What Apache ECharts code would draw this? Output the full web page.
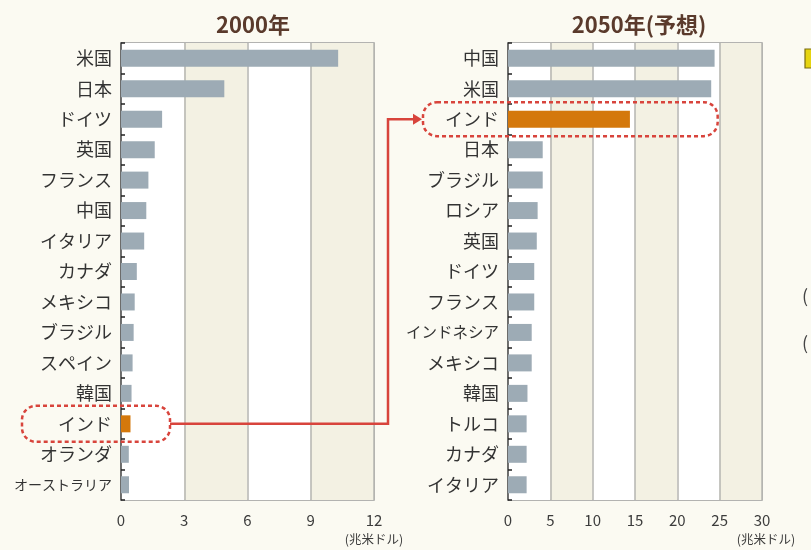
<!DOCTYPE html>
<html>
<head>
<meta charset="utf-8">
<script src="https://cdn.jsdelivr.net/npm/echarts@6/dist/echarts.min.js"></script>
<style>
html,body{margin:0;padding:0;background:#fbfaf2;}
#c{width:811px;height:550px;}
</style>
</head>
<body>
<div id="c"></div>
<script>
// ---- data ----
const cats2000 = ['米国','日本','ドイツ','英国','フランス','中国','イタリア','カナダ','メキシコ','ブラジル','スペイン','韓国','インド','オランダ','オーストラリア'];
const vals2000 = [10.3, 4.9, 1.95, 1.6, 1.3, 1.2, 1.1, 0.75, 0.65, 0.6, 0.55, 0.5, 0.45, 0.37, 0.38];
const cats2050 = ['中国','米国','インド','日本','ブラジル','ロシア','英国','ドイツ','フランス','インドネシア','メキシコ','韓国','トルコ','カナダ','イタリア'];
const vals2050 = [24.4, 24.0, 14.4, 4.1, 4.1, 3.5, 3.4, 3.1, 3.1, 2.8, 2.8, 2.3, 2.2, 2.2, 2.2];
const ticks2000 = [0, 3, 6, 9, 12];
const ticks2050 = [0, 5, 10, 15, 20, 25, 30];
const titles = ['2000年', '2050年(予想)'];
const unitLabel = '(兆米ドル)';
const highlight = 'インド';
const smallLabels = {'オーストラリア': 14, 'インドネシア': 15.5};

const FONT = '"Noto Sans CJK JP", "Noto Sans", sans-serif';
const GREY = '#9dabb5', ORANGE = '#d4780c', RED = '#d8443c';

function catItems(cats){
  return cats.map(c => smallLabels[c]
    ? {value: c, textStyle: {fontSize: smallLabels[c], letterSpacing: -1.5}}
    : c);
}
function barItems(cats, vals){
  return vals.map((v, i) => cats[i] === highlight
    ? {value: v, itemStyle: {color: ORANGE}}
    : v);
}
function xAxisCfg(idx, ticks){
  return {
    type: 'value', gridIndex: idx,
    min: ticks[0], max: ticks[ticks.length-1], interval: ticks[1]-ticks[0],
    axisLine: {show: false}, axisTick: {show: false},
    axisLabel: {margin: 13, fontSize: 15, color: '#3c3c3c', fontFamily: FONT},
    splitLine: {show: true, lineStyle: {color: '#b4b4b0', width: 1.5}},
    splitArea: {show: true, areaStyle: {color: ['#ffffff', '#f3f1e3']}}
  };
}
function yAxisCfg(idx, cats){
  return {
    type: 'category', gridIndex: idx, inverse: true, data: catItems(cats),
    axisLine: {show: true, lineStyle: {color: '#555', width: 1.5}},
    axisTick: {show: true, inside: true, length: 4, lineStyle: {color: '#222', width: 1.5}},
    axisLabel: {margin: 9, fontSize: 18, color: '#333', fontFamily: FONT}
  };
}

const chart = echarts.init(document.getElementById('c'));
const gridBase = {top: 43, bottom: 50, show: true, borderColor: '#9c9c9c', borderWidth: 1.5, backgroundColor: 'transparent'};
const titleStyle = {fontSize: 22, fontWeight: 'bold', color: '#5a3a2c', fontFamily: FONT};
chart.setOption({
  backgroundColor: '#fbfaf2',
  animation: false,
  title: [
    {text: titles[0], left: 248, top: 9, textAlign: 'center', textStyle: titleStyle},
    {text: titles[1], left: 634, top: 9, textAlign: 'center', textStyle: titleStyle}
  ],
  grid: [
    Object.assign({left: 121, right: 437}, gridBase),
    Object.assign({left: 508, right: 49}, gridBase)
  ],
  xAxis: [xAxisCfg(0, ticks2000), xAxisCfg(1, ticks2050)],
  yAxis: [yAxisCfg(0, cats2000), yAxisCfg(1, cats2050)],
  series: [
    {type: 'bar', xAxisIndex: 0, yAxisIndex: 0, data: barItems(cats2000, vals2000), barWidth: 17, itemStyle: {color: GREY}},
    {type: 'bar', xAxisIndex: 1, yAxisIndex: 1, data: barItems(cats2050, vals2050), barWidth: 17, itemStyle: {color: GREY}}
  ]
});

// ---- annotations, positioned from the axes ----
const iL = cats2000.indexOf(highlight), iR = cats2050.indexOf(highlight);
const yL = chart.convertToPixel({yAxisIndex: 0}, iL);
const yR = chart.convertToPixel({yAxisIndex: 1}, iR);
const xL0 = chart.convertToPixel({xAxisIndex: 0}, ticks2000[0]);
const xLmax = chart.convertToPixel({xAxisIndex: 0}, ticks2000[ticks2000.length-1]);
const xR0 = chart.convertToPixel({xAxisIndex: 1}, ticks2050[0]);
const xRmax = chart.convertToPixel({xAxisIndex: 1}, ticks2050[ticks2050.length-1]);
const xR25 = chart.convertToPixel({xAxisIndex: 1}, 25);
const axisY = 550 - 50;

const leftBox = {x: xL0 - 99, y: yL - 18, w: 148, h: 36};
const rightBox = {x: xR0 - 85, y: yR - 17, w: xR25 - (xR0 - 85) - 2, h: 34};
const elbowX = (xLmax + xR0) / 2 - 53;
const dashStyle = {stroke: RED, fill: 'none', lineWidth: 2.5, lineDash: [4, 3]};

chart.setOption({
  graphic: [
    {type: 'rect', shape: {x: leftBox.x, y: leftBox.y, width: leftBox.w, height: leftBox.h, r: 14}, style: dashStyle, z: 100},
    {type: 'rect', shape: {x: rightBox.x, y: rightBox.y, width: rightBox.w, height: rightBox.h, r: 14}, style: dashStyle, z: 100},
    {type: 'polyline', shape: {points: [[leftBox.x + leftBox.w, yL], [elbowX, yL], [elbowX, yR], [rightBox.x - 8, yR]]},
      style: {stroke: RED, fill: 'none', lineWidth: 2.5}, z: 100},
    {type: 'polygon', shape: {points: [[rightBox.x - 10, yR - 5.5], [rightBox.x - 1, yR], [rightBox.x - 10, yR + 5.5]]},
      style: {fill: RED}, z: 100},
    {type: 'text', style: {x: xLmax, y: axisY + 33, text: unitLabel, textAlign: 'center', fill: '#3c3c3c', font: '12.5px ' + FONT}},
    {type: 'text', style: {x: xRmax + 4, y: axisY + 33, text: unitLabel, textAlign: 'center', fill: '#3c3c3c', font: '12.5px ' + FONT}},
    // cropped elements at the right edge of the source
    {type: 'rect', shape: {x: 805, y: 49, width: 10, height: 19}, style: {fill: '#e6d410', stroke: '#7a6c10', lineWidth: 1.2}},
    {type: 'text', style: {x: 802, y: 287, text: '(', font: '18px ' + FONT, fill: '#444'}},
    {type: 'text', style: {x: 802, y: 334, text: '(', font: '18px ' + FONT, fill: '#444'}}
  ]
});
</script>
</body>
</html>
